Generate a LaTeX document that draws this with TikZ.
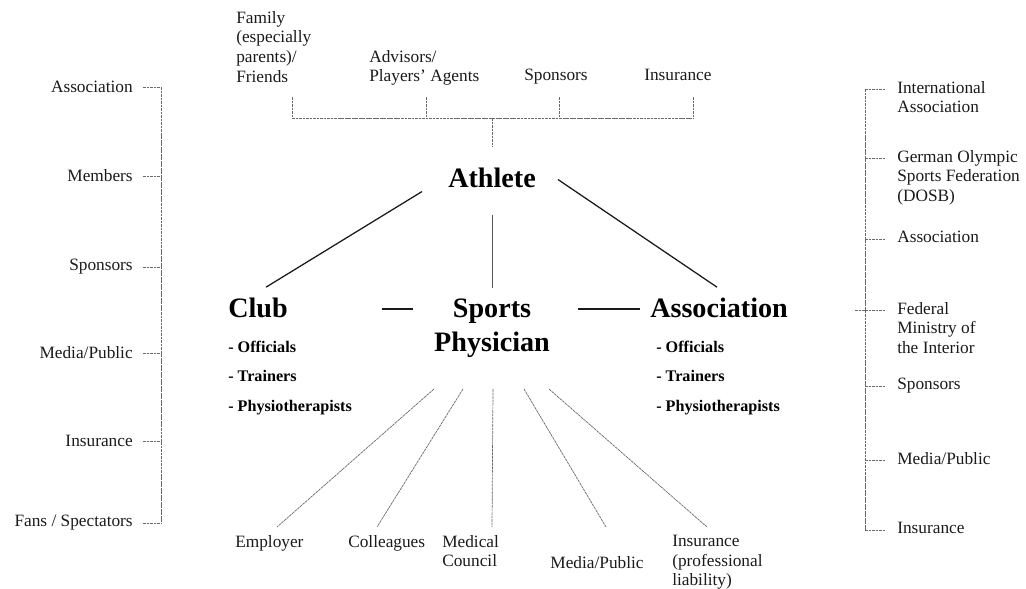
\documentclass[tikz,border=0pt]{standalone}
\usepackage{fontspec}
\setmainfont{Liberation Serif}
\usetikzlibrary{positioning}
\definecolor{inkx}{HTML}{1A1A1A}
\definecolor{dotx}{HTML}{6A6A6A}
\tikzset{
  lbl/.style={font=\fontsize{12.3}{14}\selectfont,inner sep=0pt,align=left,text=inkx},
  toplbl/.style={lbl,anchor=north west,yshift=0.2cm},
  head/.style={font=\fontsize{20}{24}\selectfont\bfseries,inner sep=0pt,anchor=base},
  sub/.style={font=\fontsize{11.5}{21}\selectfont\bfseries,inner sep=0pt,align=left},
  dotln/.style={dotx,line width=0.5pt,dash pattern=on 2pt off 0.5pt},
  solidln/.style={inkx,line width=0.9pt}
}

\begin{document}
\begin{tikzpicture}[x=0.025cm,y=-0.025cm]
\useasboundingbox (0,0) rectangle (1026,589);

% core of the network
\node[head] (athlete) at (492,188) {Athlete};
\node[head,anchor=base west] (club) at (228,318) {Club};
\node[head] (sports) at (492,318) {Sports};
\node[head] (physician) at (492,352) {Physician};
\node[head,anchor=base west] (assoc) at (650,318) {Association};
\node[sub,below=0.55cm of club.south west,anchor=north west] (clubsub) {- Officials\\- Trainers\\- Physiotherapists};
\node[sub,below=0.55cm of assoc.south west,anchor=north west,xshift=0.15cm] (assocsub) {- Officials\\- Trainers\\- Physiotherapists};

\draw[solidln] ([shift={(-26,3)}]athlete.south west) -- ([shift={(8,-11)}]club.north);
\draw[solidln] ([shift={(22,-9)}]athlete.south east) -- ([shift={(-2,-11)}]assoc.north);
\draw[dotx!80!black,line width=0.6pt] ([yshift=-0.65cm]athlete.south) -- ([yshift=0.28cm]sports.north);
\draw[solidln] ([shift={(94,-9)}]club.base east) -- ([shift={(-40,-9)}]sports.base west);
\draw[solidln] ([shift={(47,-9)}]sports.base east) -- ([shift={(-10,-9)}]assoc.base west);

% personal environment above
\node[toplbl] (family) at (236,19) {Family\\(especially\\parents)/\\Friends};
\node[toplbl] (advisors) at (369,58) {Advisors/\\Players' Agents};
\node[toplbl] (sponsorsT) at (524,77) {Sponsors};
\node[toplbl] (insuranceT) at (644,77) {Insurance};

\coordinate (bar) at (492,118);
\foreach \n/\x in {family/292, advisors/426, sponsorsT/559, insuranceT/693}{
  \coordinate (\n-t) at (\x,97);
  \draw[dotln] (\n-t) -- (\n-t |- bar);
}
\draw[dotln] (family-t |- bar) -- (insuranceT-t |- bar);
\draw[dotln] (bar) -- ([yshift=0.54cm]athlete.north);

% club side
\foreach \n/\y/\t in {la/87/Association, lb/176/Members, lc/267/Sponsors, ld/353/{Media/Public}, le/441/Insurance, lf/523/{Fans / Spectators}}{
  \node[lbl,anchor=east] (\n) at (133,\y) {\t};
  \coordinate (\n-b) at (161,\y);
  \draw[dotln] ([xshift=0.25cm]\n.east) -- (\n-b);
}
\draw[dotln] (la-b) -- (lf-b);

% association side
\foreach \n/\y/\t in {ra/89/{International\\Association}, rb/158/{German Olympic\\Sports Federation\\(DOSB)}, rc/239/Association, rd/310/{Federal\\Ministry of\\the Interior}, re/386/Sponsors, rf/460/{Media/Public}, rg/530/Insurance}{
  \node[toplbl] (\n) at (897,\y) {\t};
  \coordinate (\n-b) at (865,\y);
  \draw[dotln] (\n-b) -- +(20,0);
}
\draw[dotln] (ra-b) -- (rg-b);
\draw[dotln] (rd-b) -- +(-10,0);

% physician's own environment
\node[lbl,anchor=west] (employer) at (235,543) {Employer};
\node[lbl,anchor=west] (colleagues) at (348,543) {Colleagues};
\node[toplbl] (council) at (442,543) {Medical\\Council};
\node[lbl] (mediaB) at (597,563) {Media/Public};
\node[toplbl] (insuranceB) at (672,543) {Insurance\\(professional\\liability)};

\foreach \n/\x/\xe in {employer/434/277, colleagues/463/377, council/493/492, mediaB/524/606, insuranceB/549/707}{
  \coordinate (\n-s) at (\x,389);
  \coordinate (\n-e) at (\xe,527);
  \draw[dotln] (\n-s) -- (\n-e);
}
\end{tikzpicture}
\end{document}
